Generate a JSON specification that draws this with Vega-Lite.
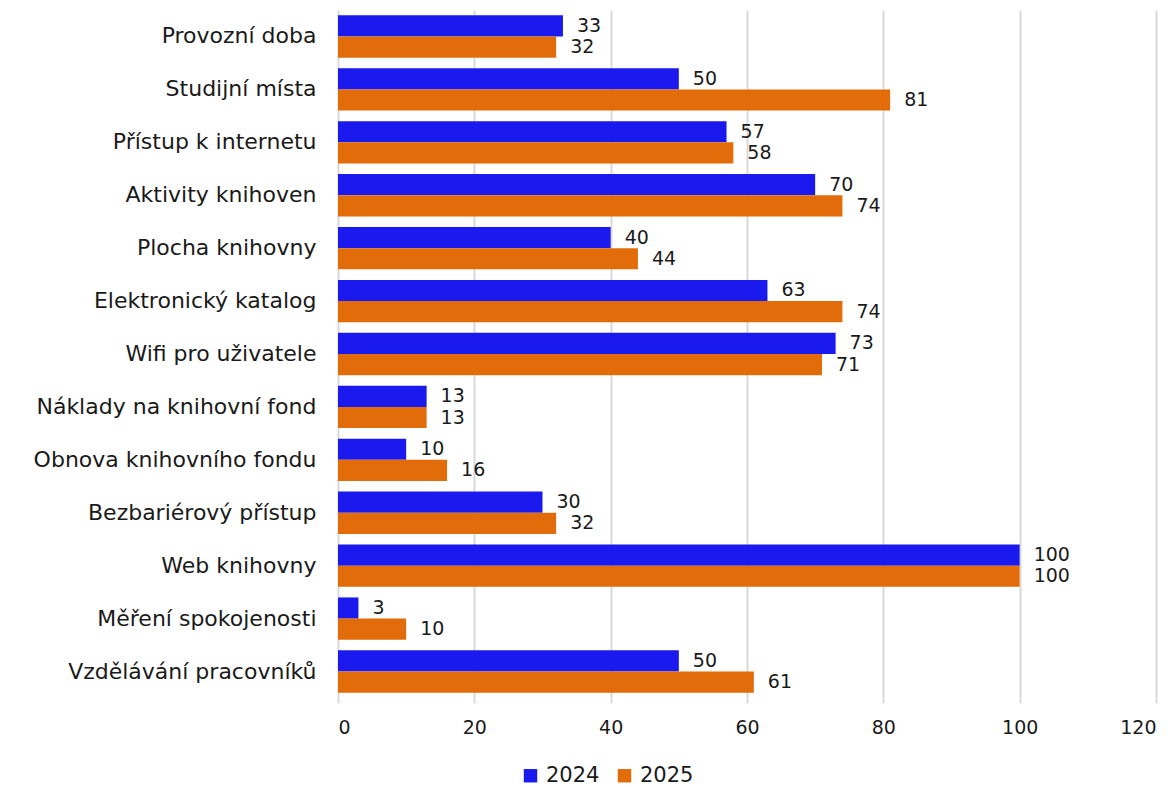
{
  "$schema": "https://vega.github.io/schema/vega-lite/v6.json",
  "autosize": {"type": "none"},
  "width": 818,
  "height": 688,
  "padding": {"left": 338, "top": 10, "right": 20, "bottom": 89},
  "background": "white",
  "config": {
    "font": "DejaVu Sans",
    "view": {"stroke": null},
    "axis": {"labelFont": "DejaVu Sans", "labelColor": "#1a1a1a"}
  },
  "data": {
    "values": [
      {"cat": "Provozní doba", "year": "2024", "v": 33},
      {"cat": "Provozní doba", "year": "2025", "v": 32},
      {"cat": "Studijní místa", "year": "2024", "v": 50},
      {"cat": "Studijní místa", "year": "2025", "v": 81},
      {"cat": "Přístup k internetu", "year": "2024", "v": 57},
      {"cat": "Přístup k internetu", "year": "2025", "v": 58},
      {"cat": "Aktivity knihoven", "year": "2024", "v": 70},
      {"cat": "Aktivity knihoven", "year": "2025", "v": 74},
      {"cat": "Plocha knihovny", "year": "2024", "v": 40},
      {"cat": "Plocha knihovny", "year": "2025", "v": 44},
      {"cat": "Elektronický katalog", "year": "2024", "v": 63},
      {"cat": "Elektronický katalog", "year": "2025", "v": 74},
      {"cat": "Wifi pro uživatele", "year": "2024", "v": 73},
      {"cat": "Wifi pro uživatele", "year": "2025", "v": 71},
      {"cat": "Náklady na knihovní fond", "year": "2024", "v": 13},
      {"cat": "Náklady na knihovní fond", "year": "2025", "v": 13},
      {"cat": "Obnova knihovního fondu", "year": "2024", "v": 10},
      {"cat": "Obnova knihovního fondu", "year": "2025", "v": 16},
      {"cat": "Bezbariérový přístup", "year": "2024", "v": 30},
      {"cat": "Bezbariérový přístup", "year": "2025", "v": 32},
      {"cat": "Web knihovny", "year": "2024", "v": 100},
      {"cat": "Web knihovny", "year": "2025", "v": 100},
      {"cat": "Měření spokojenosti", "year": "2024", "v": 3},
      {"cat": "Měření spokojenosti", "year": "2025", "v": 10},
      {"cat": "Vzdělávání pracovníků", "year": "2024", "v": 50},
      {"cat": "Vzdělávání pracovníků", "year": "2025", "v": 61}
    ]
  },
  "encoding": {
    "y": {
      "field": "cat", "type": "nominal", "sort": null,
      "scale": {"paddingInner": 0.2, "paddingOuter": 0.1},
      "axis": {"title": null, "domain": false, "ticks": false, "labelFontSize": 22, "labelPadding": 22, "labelLimit": 400}
    },
    "yOffset": {"field": "year", "type": "nominal", "scale": {"paddingInner": 0, "paddingOuter": 0}},
    "x": {
      "field": "v", "type": "quantitative",
      "scale": {"domain": [0, 120], "nice": false},
      "axis": {"title": null, "values": [0, 20, 40, 60, 80, 100, 120], "domain": false, "grid": true, "gridColor": "#d9d9d9", "gridWidth": 2, "tickColor": "#d9d9d9", "tickWidth": 2, "tickSize": 5, "labelFontSize": 19, "labelPadding": 15}
    }
  },
  "layer": [
    {
      "mark": {"type": "bar"},
      "encoding": {
        "color": {
          "field": "year", "type": "nominal",
          "scale": {"domain": ["2024", "2025"], "range": ["#1a1aef", "#e36c0a"]},
          "legend": {"title": null, "orient": "none", "direction": "horizontal", "legendX": 182, "legendY": 755, "symbolType": "square", "symbolSize": 180, "symbolStrokeWidth": 0, "labelFontSize": 21, "labelColor": "#1a1a1a", "columnPadding": 14, "symbolOffset": 0, "labelOffset": 5}
        }
      }
    },
    {
      "mark": {"type": "text", "align": "left", "baseline": "middle", "dx": 14, "fontSize": 19, "color": "#1a1a1a"},
      "encoding": {"text": {"field": "v", "type": "quantitative"}}
    }
  ]
}
